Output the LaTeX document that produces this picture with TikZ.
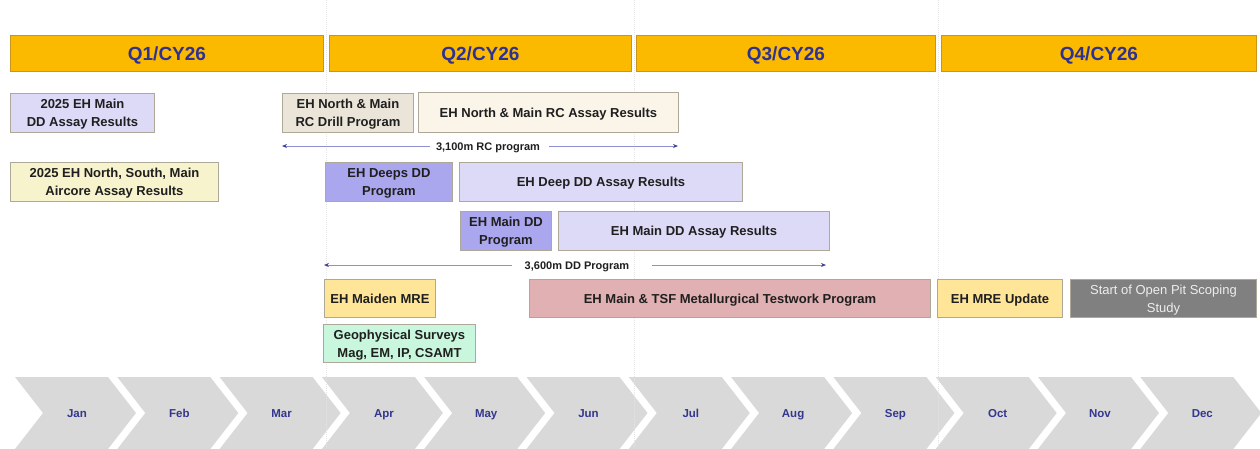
\documentclass[tikz,border=0pt]{standalone}
\usepackage{fontspec}
\setmainfont{Liberation Sans}
\usetikzlibrary{arrows.meta}
\definecolor{qfill}{HTML}{FBBA00}
\definecolor{qline}{HTML}{C9961A}
\definecolor{navy}{HTML}{2E3192}
\definecolor{mnavy}{HTML}{34378E}
\definecolor{boxline}{HTML}{ADA898}
\definecolor{lav}{HTML}{DDDAF8}
\definecolor{lavdark}{HTML}{ABA7EE}
\definecolor{beige}{HTML}{EBE5D9}
\definecolor{cream}{HTML}{FBF5E9}
\definecolor{paley}{HTML}{F6F3CD}
\definecolor{gold}{HTML}{FFE598}
\definecolor{pink}{HTML}{E0B0B2}
\definecolor{mint}{HTML}{C9F7DD}
\definecolor{greybox}{HTML}{808080}
\definecolor{chev}{HTML}{D9D9D9}
\definecolor{arrline}{HTML}{8E90CF}
\definecolor{arrtip}{HTML}{3E4199}
\definecolor{divider}{HTML}{E4E4E4}
\begin{document}
\begin{tikzpicture}[x=1pt,y=-1pt,
  quarter/.style={draw=qline, line width=0.9pt, fill=qfill, anchor=north west, inner sep=0pt,
    minimum height=36pt, text depth=0pt, text=navy, font=\fontsize{19}{22}\selectfont\bfseries},
  box/.style={draw=boxline, line width=0.9pt, anchor=north west, inner sep=0pt, align=center,
    text depth=0pt, text=black!88, font=\fontsize{13}{18}\selectfont\bfseries},
  month/.style={text=mnavy, anchor=base, font=\fontsize{11.5}{13}\selectfont\bfseries},
  spanlabel/.style={text=black!88, inner sep=0pt, anchor=base, font=\fontsize{11}{13}\selectfont\bfseries},
  spanline/.style={draw=arrline, line width=0.8pt, -{Stealth[length=5pt,width=4pt,color=arrtip]}},
  chevron/.style={fill=chev},
  divline/.style={draw=divider, line width=1pt, densely dotted}
]
\useasboundingbox (0,0) rectangle (1260,448);

% month chevrons
\foreach \m [count=\i from 0] in {Jan,Feb,Mar,Apr,May,Jun,Jul,Aug,Sep,Oct,Nov,Dec} {
  \pgfmathsetmacro\xo{15+102.3*\i}
  \fill[chevron] (\xo,377) -- (\xo+93,377) -- (\xo+121,413) -- (\xo+93,449) -- (\xo,449) -- (\xo+28,413) -- cycle;
  \node[month] (m\i) at (\xo+62,417.5) {\m};
}

% quarter dividers
\coordinate (d1t) at (326,0);   \coordinate (d1b) at (326,448);
\coordinate (d2t) at (634,0);   \coordinate (d2b) at (634,448);
\coordinate (d3t) at (938,0);   \coordinate (d3b) at (938,448);
\draw[divline] (d1t) -- (d1b);
\draw[divline] (d2t) -- (d2b);
\draw[divline] (d3t) -- (d3b);

% quarters
\node[quarter, minimum width=313pt] (q1) at (10,35) {Q1/CY26};
\node[quarter, minimum width=302pt] (q2) at (329,35) {Q2/CY26};
\node[quarter, minimum width=299pt] (q3) at (636,35) {Q3/CY26};
\node[quarter, minimum width=315pt] (q4) at (941,35) {Q4/CY26};

% activity boxes
\node[box, fill=lav, minimum width=144pt, minimum height=39pt] (b1) at (10,93) {2025 EH Main\\DD Assay Results};
\node[box, fill=paley, minimum width=208pt, minimum height=39pt] (b2) at (10,162) {2025 EH North, South, Main\\Aircore Assay Results};
\node[box, fill=beige, minimum width=131pt, minimum height=39pt] (b3) at (282,93) {EH North \& Main\\RC Drill Program};
\node[box, fill=cream, minimum width=260pt, minimum height=40pt] (b4) at (418,92) {EH North \& Main RC Assay Results};
\node[box, fill=lavdark, minimum width=127pt, minimum height=39pt] (b5) at (325,162) {EH Deeps DD\\Program};
\node[box, fill=lav, minimum width=283pt, minimum height=39pt] (b6) at (459,162) {EH Deep DD Assay Results};
\node[box, fill=lavdark, minimum width=91pt, minimum height=39pt] (b7) at (460,211) {EH Main DD\\Program};
\node[box, fill=lav, minimum width=271pt, minimum height=39pt] (b8) at (558,211) {EH Main DD Assay Results};
\node[box, fill=gold, minimum width=111pt, minimum height=38pt] (b9) at (324,279) {EH Maiden MRE};
\node[box, fill=pink, minimum width=401pt, minimum height=38pt] (b10) at (529,279) {EH Main \& TSF Metallurgical Testwork Program};
\node[box, fill=gold, minimum width=125pt, minimum height=38pt] (b11) at (937,279) {EH MRE Update};
\node[box, fill=greybox, minimum width=186pt, minimum height=38pt, text=white!93!black, font=\fontsize{13}{18}\selectfont] (b12) at (1070,279) {Start of Open Pit Scoping\\Study};
\node[box, fill=mint, minimum width=152pt, minimum height=38pt] (b13) at (323,324) {Geophysical Surveys\\Mag, EM, IP, CSAMT};

% span arrows
\node[spanlabel] (rc) at (488,150) {3,100m RC program};
\coordinate (rcL) at (282,146);
\coordinate (rcR) at (678,146);
\draw[spanline] ([xshift=-6pt]rcL -| rc.west) -- (rcL);
\draw[spanline] ([xshift=9pt]rcR -| rc.east) -- (rcR);

\node[spanlabel] (dd) at (577,269) {3,600m DD Program};
\coordinate (ddL) at (324,265);
\coordinate (ddR) at (826,265);
\draw[spanline] ([xshift=-13pt]ddL -| dd.west) -- (ddL);
\draw[spanline] ([xshift=23pt]ddR -| dd.east) -- (ddR);
\end{tikzpicture}
\end{document}
